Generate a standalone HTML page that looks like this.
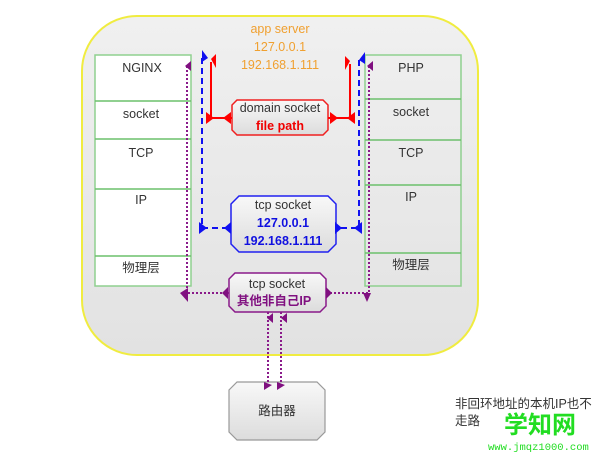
<!DOCTYPE html>
<html><head><meta charset="utf-8"><style>
body{margin:0;background:#fff;width:609px;height:455px;overflow:hidden}
svg text{font-family:"Liberation Sans","Noto Sans CJK SC",sans-serif}
svg text.mono{font-family:"Liberation Mono",monospace}
</style></head><body>
<svg width="609" height="455" xmlns="http://www.w3.org/2000/svg">
<defs>
<linearGradient id="bg" x1="0" y1="0" x2="0" y2="1"><stop offset="0" stop-color="#f0f0f0"/><stop offset="1" stop-color="#e2e2e2"/></linearGradient>
<linearGradient id="bx" x1="0" y1="0" x2="0" y2="1"><stop offset="0" stop-color="#f8f8f8"/><stop offset="1" stop-color="#dcdcdc"/></linearGradient>
</defs>
<rect x="82" y="16" width="396" height="339" rx="55" fill="url(#bg)" stroke="#f0ec40" stroke-width="2"/>
<text x="280" y="33" font-size="12.5" fill="#f0a030" text-anchor="middle">app server</text>
<text x="280" y="51" font-size="12.5" fill="#f0a030" text-anchor="middle">127.0.0.1</text>
<text x="280" y="69" font-size="12.5" fill="#f0a030" text-anchor="middle">192.168.1.111</text>
<rect x="95" y="55" width="96" height="231" fill="#fff" stroke="#8fd08f" stroke-width="1.5"/>
<g stroke="#6cc06c" stroke-width="1.5"><line x1="95" y1="101" x2="191" y2="101"/><line x1="95" y1="139" x2="191" y2="139"/><line x1="95" y1="189" x2="191" y2="189"/><line x1="95" y1="256" x2="191" y2="256"/></g>
<rect x="365" y="55" width="96" height="231" fill="none" stroke="#8fd08f" stroke-width="1.5"/>
<g stroke="#6cc06c" stroke-width="1.5"><line x1="365" y1="99" x2="461" y2="99"/><line x1="365" y1="140" x2="461" y2="140"/><line x1="365" y1="185" x2="461" y2="185"/><line x1="365" y1="253" x2="461" y2="253"/></g>
<g font-size="12.5" fill="#333" text-anchor="middle">
<text x="142" y="72">NGINX</text><text x="141" y="118">socket</text><text x="141" y="157">TCP</text><text x="141" y="204">IP</text><text x="141" y="272">物理层</text>
<text x="411" y="72">PHP</text><text x="411" y="116">socket</text><text x="411" y="157">TCP</text><text x="411" y="201">IP</text><text x="411" y="269">物理层</text>
</g>
<path d="M237 100 H323 L328 105 V130 L323 135 H237 L232 130 V105 Z" fill="url(#bx)" stroke="#f02020" stroke-width="1.5"/>
<text x="280" y="112" font-size="12.5" fill="#333" text-anchor="middle">domain socket</text>
<text x="280" y="130" font-size="12.5" fill="#f00000" font-weight="bold" text-anchor="middle">file path</text>
<path d="M239 196 H328 L336 204 V244 L328 252 H239 L231 244 V204 Z" fill="url(#bx)" stroke="#2020f0" stroke-width="1.5"/>
<text x="283" y="209" font-size="12.5" fill="#333" text-anchor="middle">tcp socket</text>
<text x="283" y="227" font-size="12.5" fill="#1010e0" font-weight="bold" text-anchor="middle">127.0.0.1</text>
<text x="283" y="245" font-size="12.5" fill="#1010e0" font-weight="bold" text-anchor="middle">192.168.1.111</text>
<path d="M235 273 H320 L326 279 V306 L320 312 H235 L229 306 V279 Z" fill="url(#bx)" stroke="#8a1a8a" stroke-width="1.5"/>
<text x="277" y="288" font-size="12.5" fill="#333" text-anchor="middle">tcp socket</text>
<text x="274" y="305" font-size="12.5" fill="#801080" font-weight="bold" text-anchor="middle">其他非自己IP</text>
<path d="M237 382 H317 L325 390 V432 L317 440 H237 L229 432 V390 Z" fill="url(#bx)" stroke="#999" stroke-width="1.2"/>
<text x="277" y="415" font-size="12.5" fill="#333" text-anchor="middle">路由器</text>
<g stroke="#1010f0" stroke-width="2" stroke-dasharray="6,4" fill="none">
<path d="M202 58 V228 H229"/><path d="M359 60 V228 H335"/></g>
<g fill="#1010f0">
<polygon points="202,50 208,58 202,62"/><polygon points="199,222 207,228 199,234"/><polygon points="231,222 224,228 231,234"/>
<polygon points="365,52 359,60 365,64"/><polygon points="362,222 354,228 362,234"/><polygon points="335,222 342,228 335,234"/>
</g>
<g stroke="#f00" stroke-width="2" fill="none"><path d="M211 62 V118 H232"/><path d="M350 64 V118 H328"/></g>
<g fill="#f00">
<polygon points="211,59 216,54 216,68"/><polygon points="206,112 214,118 206,124"/><polygon points="231,112 223,118 231,124"/>
<polygon points="350,61 345,56 345,70"/><polygon points="355,112 347,118 355,124"/><polygon points="330,112 338,118 330,124"/>
</g>
<g stroke="#8a1a8a" stroke-width="2" stroke-dasharray="2,2" fill="none">
<path d="M187 66 V293 H229"/><path d="M369 66 V293 H326"/><path d="M268 312 V385"/><path d="M281 312 V385"/></g>
<g fill="#801080">
<polygon points="191,61 191,71 185,66"/><polygon points="180,293 188,288 188,302"/><polygon points="228,287 222,293 228,299"/>
<polygon points="373,61 373,71 367,66"/><polygon points="363,293 371,293 367,302"/><polygon points="326,287 332,293 326,299"/>
<polygon points="273,313 267,318 273,323"/><polygon points="287,313 281,318 287,323"/>
<polygon points="264,382 272,385 264,390"/><polygon points="277,382 285,385 277,390"/>
</g>
<text x="455" y="408" font-size="12.5" fill="#333">非回环地址的本机IP也不</text>
<text x="455" y="425" font-size="12.5" fill="#333">走路</text>
<text x="504" y="433" font-size="24" font-weight="bold" fill="#22dd22">学知网</text>
<text x="488" y="450" font-size="10.5" fill="#22dd22" class="mono">www.jmqz1000.com</text>
</svg>
</body></html>
